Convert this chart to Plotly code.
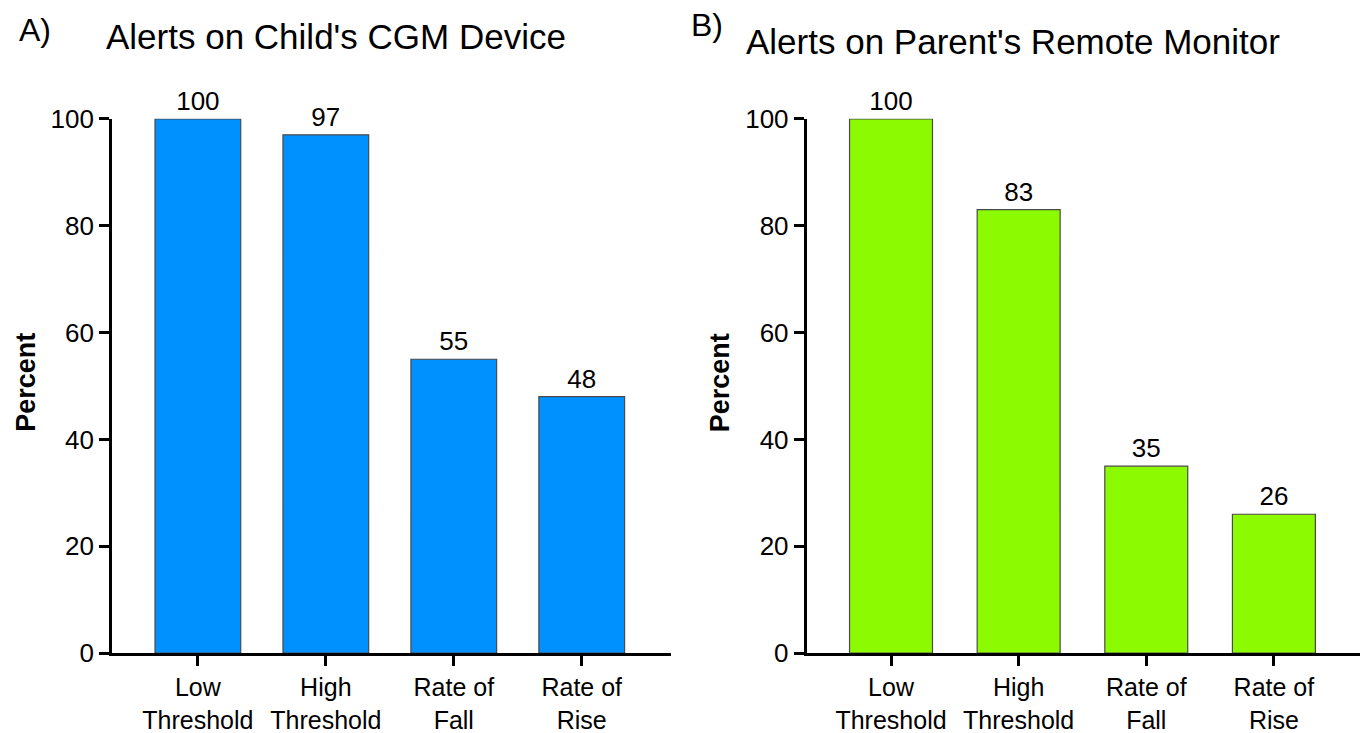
import plotly.graph_objects as go

categories = ["Low<br>Threshold", "High<br>Threshold", "Rate of<br>Fall", "Rate of<br>Rise"]
child_values = [100, 97, 55, 48]
parent_values = [100, 83, 35, 26]
titles = ["Alerts on Child's CGM Device", "Alerts on Parent's Remote Monitor"]
panel_labels = ["A)", "B)"]
y_title = "Percent"
y_ticks = [0, 20, 40, 60, 80, 100]

W, H = 1368, 733
FONT = "Liberation Sans, Arial, sans-serif"

# empirical calibration of page -> screenshot mapping
def px_x(p):
    return min(1.0, max(0.0, ((p - 10) / 0.989) / W))

def px_y(p):
    return 1 - ((p - 19) / 0.971) / H

fig = go.Figure()
fig.add_trace(go.Bar(
    x=categories, y=child_values, text=[str(v) for v in child_values],
    textposition="outside", cliponaxis=False,
    textfont=dict(size=26, color="black", family=FONT),
    marker=dict(color="#0091FF", line=dict(color="#4a4a4a", width=1.2)),
    width=0.67, xaxis="x", yaxis="y", showlegend=False))
fig.add_trace(go.Bar(
    x=categories, y=parent_values, text=[str(v) for v in parent_values],
    textposition="outside", cliponaxis=False,
    textfont=dict(size=26, color="black", family=FONT),
    marker=dict(color="#8CFA00", line=dict(color="#4a4a4a", width=1.2)),
    width=0.65, xaxis="x2", yaxis="y2", showlegend=False))

ydom = [px_y(657), px_y(116)]
axis_common = dict(showline=True, linecolor="black", linewidth=3, showgrid=False,
                   zeroline=False, ticks="outside", tickcolor="black")

fig.update_layout(
    width=W, height=H, margin=dict(l=0, r=0, t=0, b=0),
    paper_bgcolor="white", plot_bgcolor="white",
    font=dict(family=FONT, color="black"),
    xaxis=dict(domain=[px_x(113), px_x(666)], range=[-0.67, 3.70], anchor="y",
               ticklen=10, tickwidth=3, tickfont=dict(size=25, color="black", family=FONT),
               **axis_common),
    yaxis=dict(domain=ydom, range=[0, 100], anchor="x", tickvals=y_ticks,
               ticklen=10, tickwidth=3, tickfont=dict(size=26, color="black", family=FONT),
               **axis_common),
    xaxis2=dict(domain=[px_x(800), px_x(1368)], range=[-0.66, 3.80], anchor="y2",
                ticklen=10, tickwidth=3, tickfont=dict(size=25, color="black", family=FONT),
                **axis_common),
    yaxis2=dict(domain=ydom, range=[0, 100], anchor="x2", tickvals=y_ticks,
                ticklen=10, tickwidth=3, tickfont=dict(size=26, color="black", family=FONT),
                **axis_common),
)

ann = []
ann.append(dict(text=panel_labels[0], x=px_x(19), y=px_y(26), xanchor="left", yanchor="middle",
                font=dict(size=32, family=FONT)))
ann.append(dict(text=titles[0], x=px_x(105), y=px_y(33), xanchor="left", yanchor="middle",
                font=dict(size=35, family=FONT)))
ann.append(dict(text=panel_labels[1], x=px_x(684), y=px_y(21), xanchor="left", yanchor="middle",
                font=dict(size=32, family=FONT)))
ann.append(dict(text=titles[1], x=px_x(738), y=px_y(38), xanchor="left", yanchor="middle",
                font=dict(size=35, family=FONT)))
ann.append(dict(text="<b>" + y_title + "</b>", x=px_x(27), y=px_y(383), textangle=-90,
                xanchor="center", yanchor="middle", font=dict(size=27, family=FONT)))
ann.append(dict(text="<b>" + y_title + "</b>", x=px_x(714), y=px_y(383), textangle=-90,
                xanchor="center", yanchor="middle", font=dict(size=27, family=FONT)))
for a in ann:
    a.update(xref="paper", yref="paper", showarrow=False)
fig.update_layout(annotations=ann)

fig.write_html("out.html")
